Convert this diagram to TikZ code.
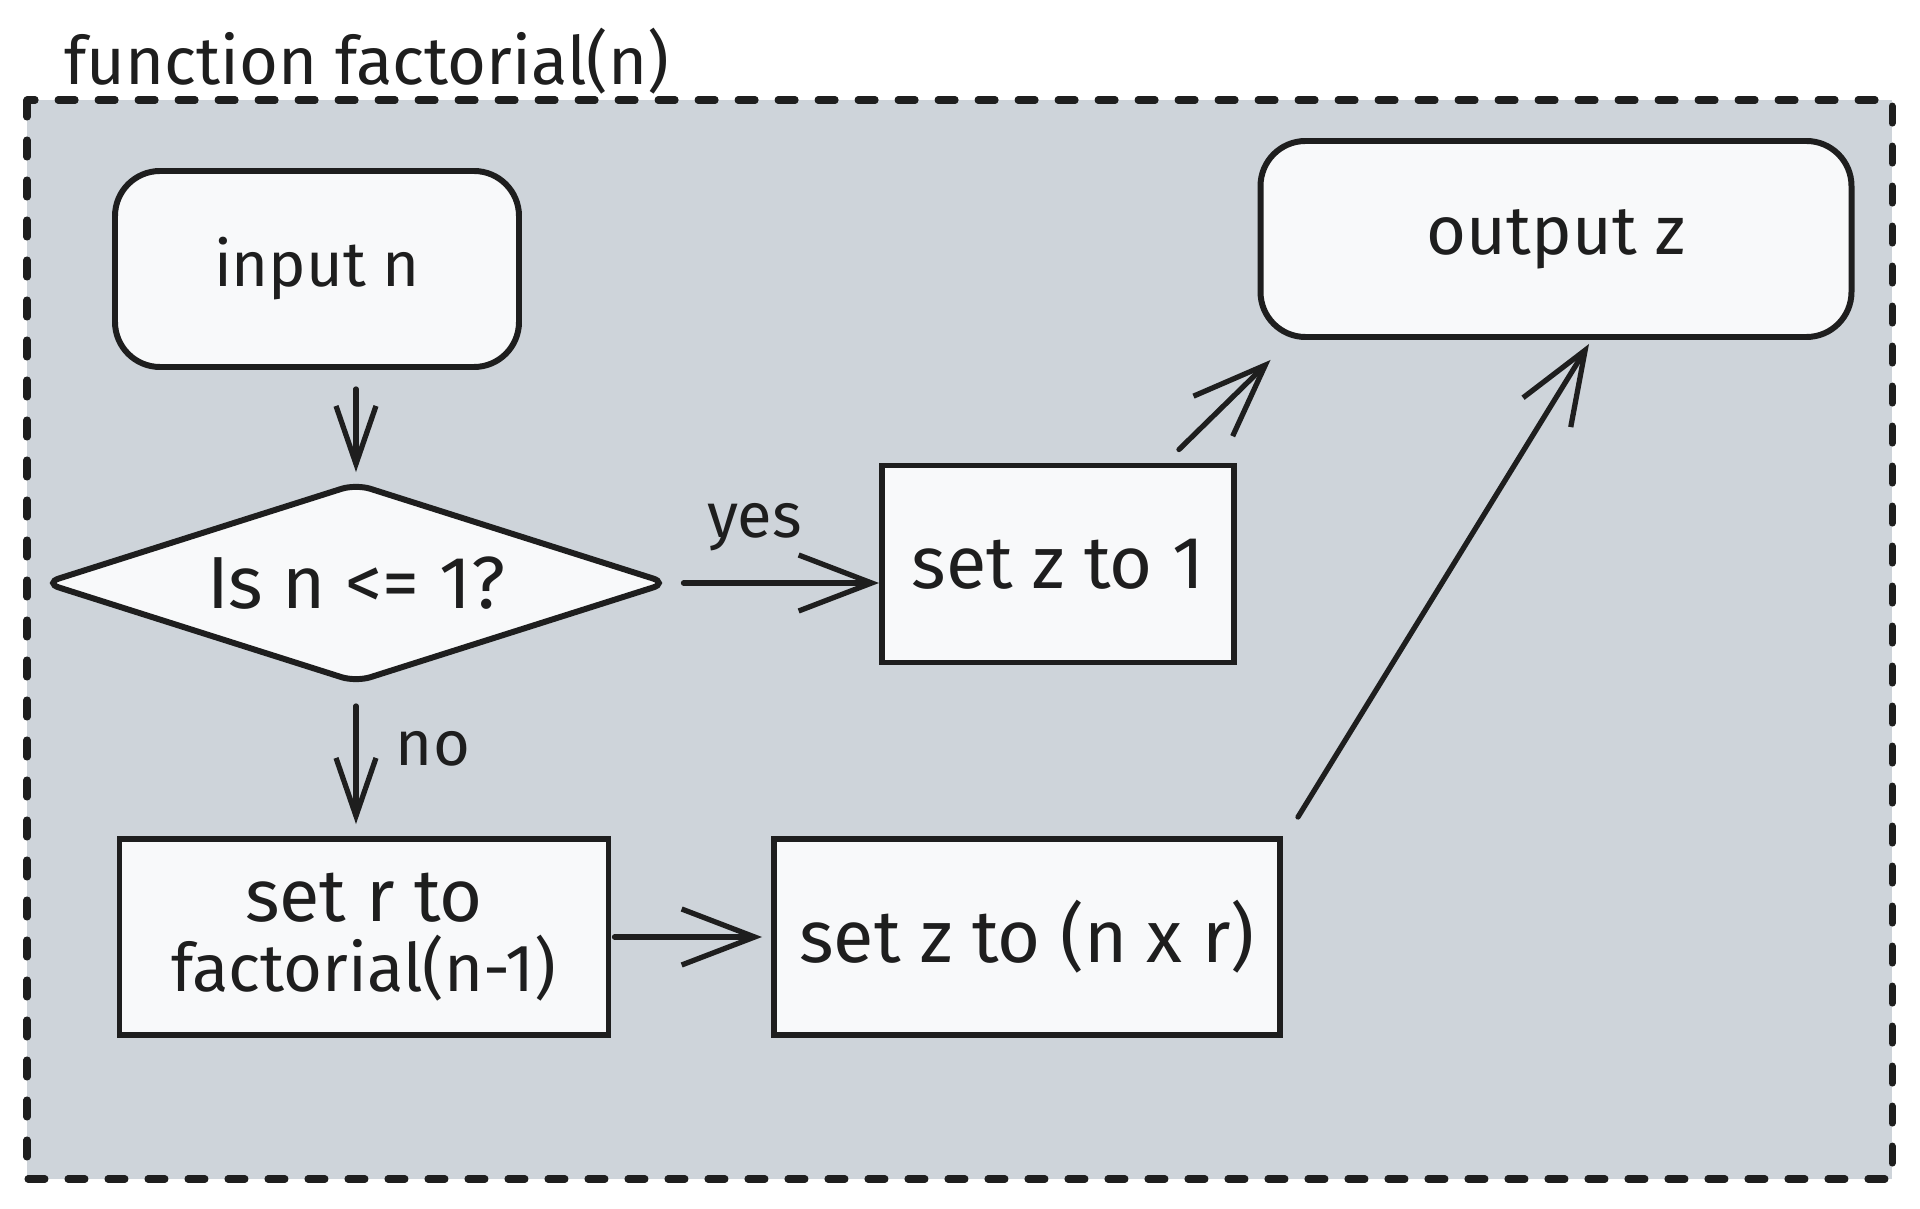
\documentclass[tikz,border=0pt]{standalone}
\usepackage{fontspec}
\setmainfont{Fira Sans}
\usepackage{xcolor}
\usetikzlibrary{arrows.meta,shapes.geometric,calc}
\definecolor{ink}{HTML}{1E1E1E}
\definecolor{framegray}{HTML}{CED4DA}
\definecolor{boxfill}{HTML}{F8F9FA}

\begin{document}
\begin{tikzpicture}[
  x=0.1mm, y=-0.1mm,
  every node/.style={font=\fontsize{21}{20}\selectfont, text=ink, align=center},
  box/.style={draw=ink, line width=1.7pt, fill=boxfill, inner sep=0pt,
              minimum height=19.6mm},
  roundbox/.style={box, rounded corners=4.5mm},
  decision/.style={box, diamond, aspect=3.1, rounded corners=1.5mm,
                   minimum width=62.5mm, minimum height=20mm},
  arr/.style={-{Straight Barb[length=7.3mm, width=5.6mm, line width=1.5pt]},
              line width=1.5pt, draw=ink, line cap=round},
  shortarr/.style={arr, -{Straight Barb[length=5.8mm, width=4mm, line width=1.5pt]}},
  lbl/.style={font=\fontsize{18}{20}\selectfont},
]
  \useasboundingbox (0,0) rectangle (1920,1209);

  % dashed frame of the function
  \draw[ink, fill=framegray, line width=2pt, line cap=round,
        dash pattern=on 1.7mm off 2.3mm] (27,100) rectangle (1892,1179);
  \node[anchor=west, font=\fontsize{19}{20}\selectfont] (title) at (52,61) {function factorial(n)};

  \node[roundbox, minimum width=40.4mm, font=\fontsize{18}{20}\selectfont] (inp) at (317,269) {input n};
  \node[decision] (dec) at (356,583) {Is n <= 1?};
  \node[roundbox, minimum width=59.1mm, font=\fontsize{19.5}{20}\selectfont] (out) at (1556,239) {output z};
  \node[box, minimum width=35.2mm, minimum height=19.7mm] (zone) at (1058,564) {set z to 1};
  \node[box, minimum width=48.9mm] (rec) at (364,937)
    {set r to\\\fontsize{19}{20}\selectfont factorial(n-1)};
  \node[box, minimum width=50.6mm] (zmul) at (1027,937) {set z to (n x r)};

  \draw[shortarr, shorten <=1.9mm, shorten >=0.8mm] (dec.north |- inp.south) -- (dec.north);
  \draw[arr, shorten <=1.2mm] (dec.east) -- (dec.east -| zone.west)
    node[lbl, pos=0.4, yshift=5.6mm] {yes};
  \draw[shortarr, shorten <=2mm, shorten >=1.2mm] (dec.south) -- (dec.south |- rec.north)
    node[lbl, pos=0.42, xshift=7.7mm] {no};
  \draw[arr, shorten <=0.3mm, shorten >=0.9mm] (rec.east) -- (zmul.west);
  \draw[arr] ($(zone.north east)+(-58,-13)$) -- ($(out.south west)+(13,20)$);
  \draw[arr] ($(zmul.north east)+(15,-19)$) -- ($(out.south)+(33,4)$);
\end{tikzpicture}
\end{document}
